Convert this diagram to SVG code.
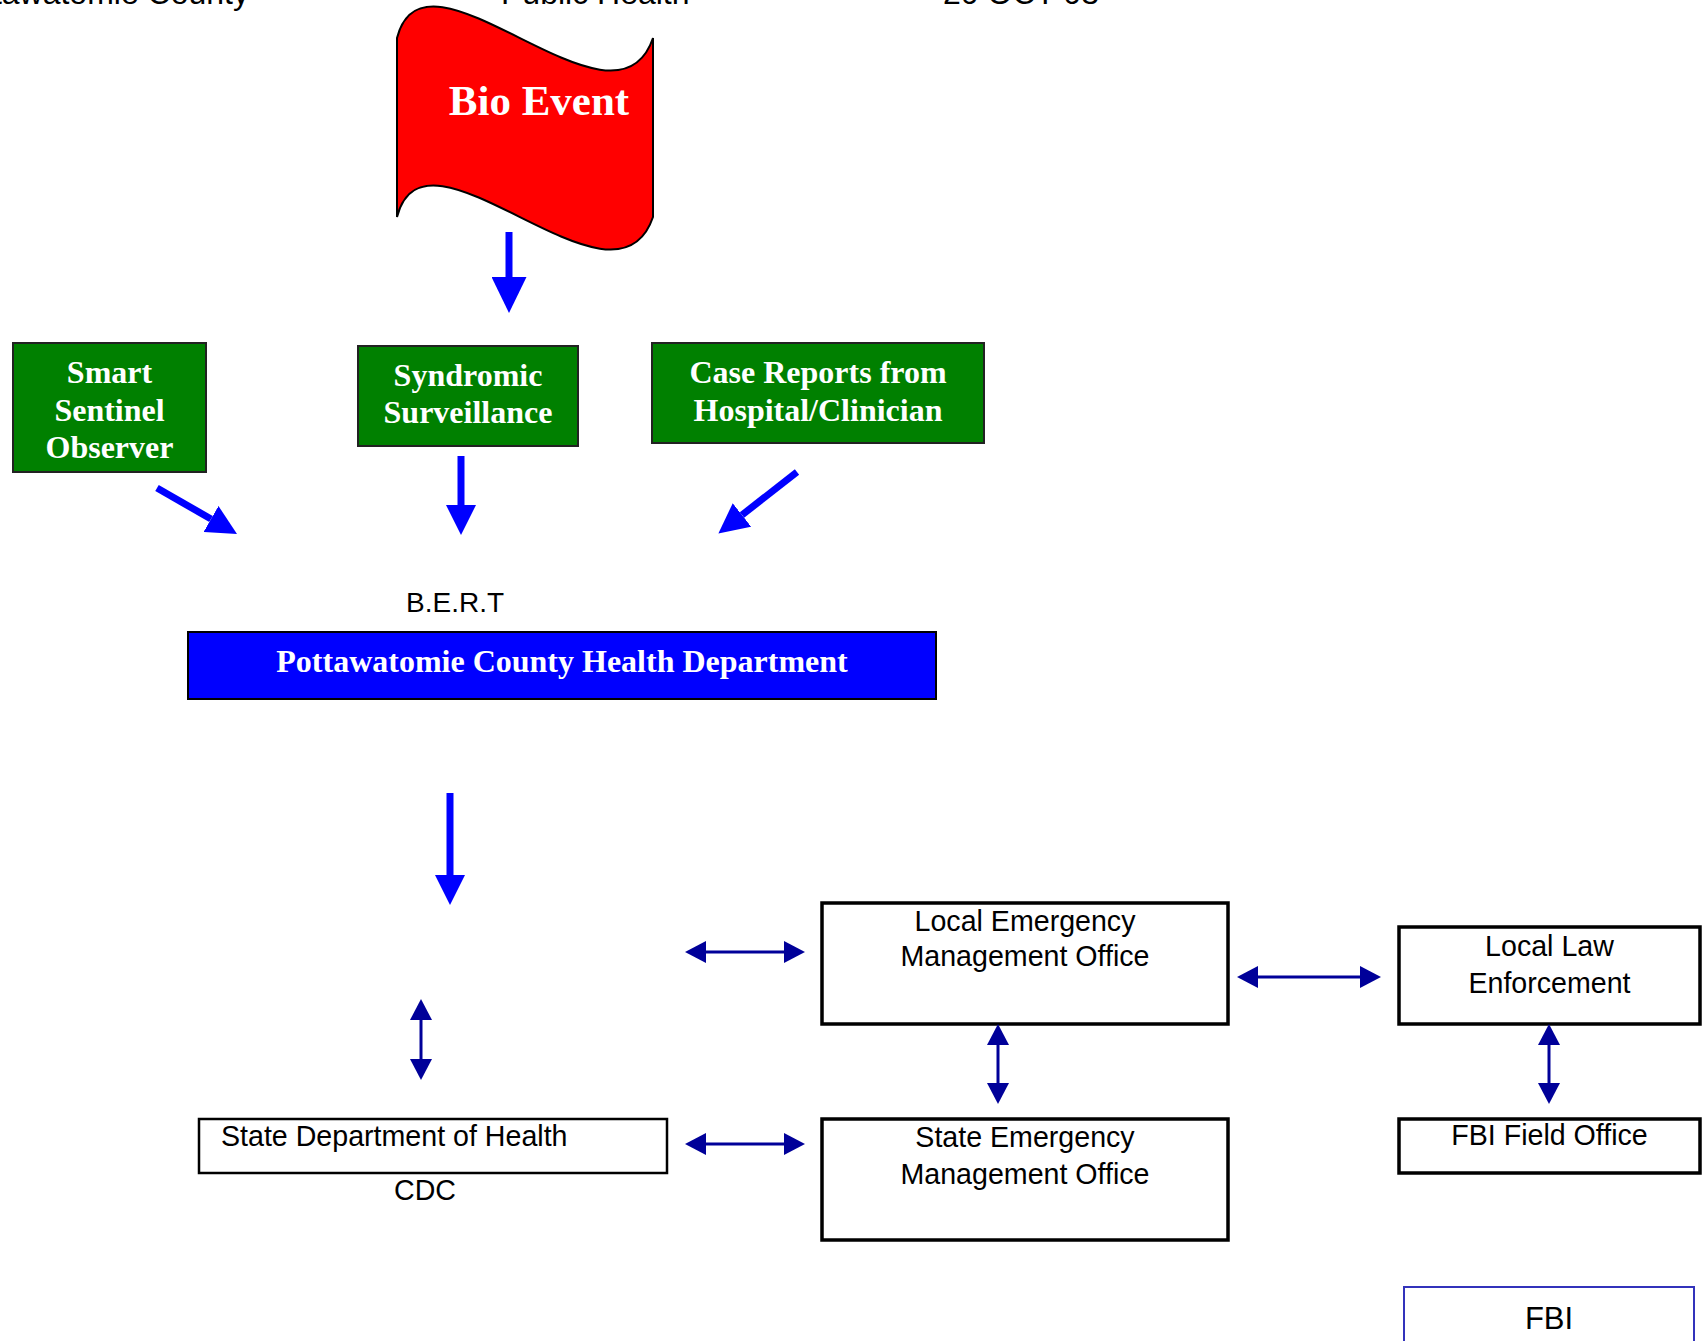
<svg xmlns="http://www.w3.org/2000/svg" width="1704" height="1341" viewBox="0 0 1704 1341">
  <style>
    .hdr { font-family: "Liberation Sans", Arial, sans-serif; font-size: 32px; fill: #000; }
    .lbl { font-family: "Liberation Sans", Arial, sans-serif; font-size: 28.6px; fill: #000; }
    .wt { font-family: "Liberation Serif", "Times New Roman", serif; font-weight: bold; font-size: 32px; fill: #fff; text-anchor: middle; }
    .green { fill: #008000; stroke: #222; stroke-width: 2; }
    .wbox { fill: #fff; stroke: #000; stroke-width: 3.5; }
    .blue { stroke: #0000ff; stroke-width: 7; fill: none; }
    .navy { stroke: #000099; stroke-width: 3; fill: none; marker-start: url(#navyHead); marker-end: url(#navyHead); }
  </style>
  <defs>
    <marker id="blueHead" viewBox="0 0 30 30" markerWidth="30" markerHeight="30" markerUnits="userSpaceOnUse" refX="0" refY="15" orient="auto">
      <path d="M0,0 L30,15 L0,30 Z" fill="#0000ff"/>
    </marker>
    <marker id="blueHeadL" viewBox="0 0 36 35" markerWidth="36" markerHeight="35" markerUnits="userSpaceOnUse" refX="0" refY="17.5" orient="auto">
      <path d="M0,0 L36,17.5 L0,35 Z" fill="#0000ff"/>
    </marker>
    <marker id="navyHead" viewBox="0 0 21 22" markerWidth="21" markerHeight="22" markerUnits="userSpaceOnUse" refX="0" refY="11" orient="auto-start-reverse">
      <path d="M0,0 L21,11 L0,22 Z" fill="#000099"/>
    </marker>
  </defs>

  <g id="header">
    <text class="hdr" x="249" y="3.5" text-anchor="end">Pottawatomie County</text>
    <text class="hdr" x="501" y="3.5">Public Health</text>
    <text class="hdr" x="943" y="3.5">20 OCT 03</text>
  </g>

  <g id="bio-event">
    <path d="M397,38 C425,-72 615,150 653,38 L653,217 C615,329 425,107 397,217 Z" fill="#ff0000" stroke="#000" stroke-width="2"/>
    <text class="wt" x="539" y="115" style="font-size:43px">Bio Event</text>
  </g>

  <g id="smart-sentinel">
    <rect class="green" x="13" y="343" width="193" height="129"/>
    <text class="wt" x="109.5" y="383">Smart</text>
    <text class="wt" x="109.5" y="421">Sentinel</text>
    <text class="wt" x="109.5" y="458">Observer</text>
  </g>

  <g id="syndromic">
    <rect class="green" x="358" y="346" width="220" height="100"/>
    <text class="wt" x="468" y="386">Syndromic</text>
    <text class="wt" x="468" y="423">Surveillance</text>
  </g>

  <g id="case-reports">
    <rect class="green" x="652" y="343" width="332" height="100"/>
    <text class="wt" x="818" y="383">Case Reports from</text>
    <text class="wt" x="818" y="421">Hospital/Clinician</text>
  </g>

  <g id="bert">
    <text class="lbl" x="406" y="612" style="font-size:28px">B.E.R.T</text>
  </g>

  <g id="health-dept">
    <rect x="188" y="632" width="748" height="67" fill="#0000ff" stroke="#000" stroke-width="2"/>
    <text class="wt" x="562" y="672">Pottawatomie County Health Department</text>
  </g>

  <g id="local-emo">
    <rect class="wbox" x="822" y="903" width="406" height="121"/>
    <text class="lbl" x="1025" y="931" text-anchor="middle">Local Emergency</text>
    <text class="lbl" x="1025" y="966" text-anchor="middle">Management Office</text>
  </g>

  <g id="state-emo">
    <rect class="wbox" x="822" y="1119" width="406" height="121"/>
    <text class="lbl" x="1025" y="1147" text-anchor="middle">State Emergency</text>
    <text class="lbl" x="1025" y="1184" text-anchor="middle">Management Office</text>
  </g>

  <g id="local-law">
    <rect class="wbox" x="1399" y="927" width="301" height="97"/>
    <text class="lbl" x="1549.5" y="956" text-anchor="middle">Local Law</text>
    <text class="lbl" x="1549.5" y="993" text-anchor="middle">Enforcement</text>
  </g>

  <g id="fbi-field">
    <rect class="wbox" x="1399" y="1119" width="301" height="54"/>
    <text class="lbl" x="1549.5" y="1145" text-anchor="middle">FBI Field Office</text>
  </g>

  <g id="state-health">
    <rect x="199" y="1119" width="468" height="54" fill="#fff" stroke="#000" stroke-width="2.5"/>
    <text class="lbl" x="221" y="1146">State Department of Health</text>
  </g>

  <g id="cdc">
    <text class="lbl" x="425" y="1200" text-anchor="middle">CDC</text>
  </g>

  <g id="fbi">
    <rect x="1404" y="1287" width="290" height="80" fill="#fff" stroke="#3333bb" stroke-width="2"/>
    <text class="lbl" x="1549" y="1329" text-anchor="middle" style="font-size:31px">FBI</text>
  </g>

  <g id="connectors">
    <line class="blue" x1="509" y1="232" x2="509" y2="277" marker-end="url(#blueHeadL)"/>
    <line class="blue" x1="157" y1="488" x2="211" y2="519" marker-end="url(#blueHead)"/>
    <line class="blue" x1="461" y1="456" x2="461" y2="505" marker-end="url(#blueHead)"/>
    <line class="blue" x1="797" y1="472" x2="742" y2="515" marker-end="url(#blueHead)"/>
    <line class="blue" x1="450" y1="793" x2="450" y2="875" marker-end="url(#blueHead)"/>

    <line class="navy" x1="706" y1="952" x2="784" y2="952"/>
    <line class="navy" x1="706" y1="1144" x2="784" y2="1144"/>
    <line class="navy" x1="1258" y1="977" x2="1360" y2="977"/>
    <line class="navy" x1="421" y1="1020" x2="421" y2="1059"/>
    <line class="navy" x1="998" y1="1045" x2="998" y2="1083"/>
    <line class="navy" x1="1549" y1="1045" x2="1549" y2="1083"/>
  </g>
</svg>
